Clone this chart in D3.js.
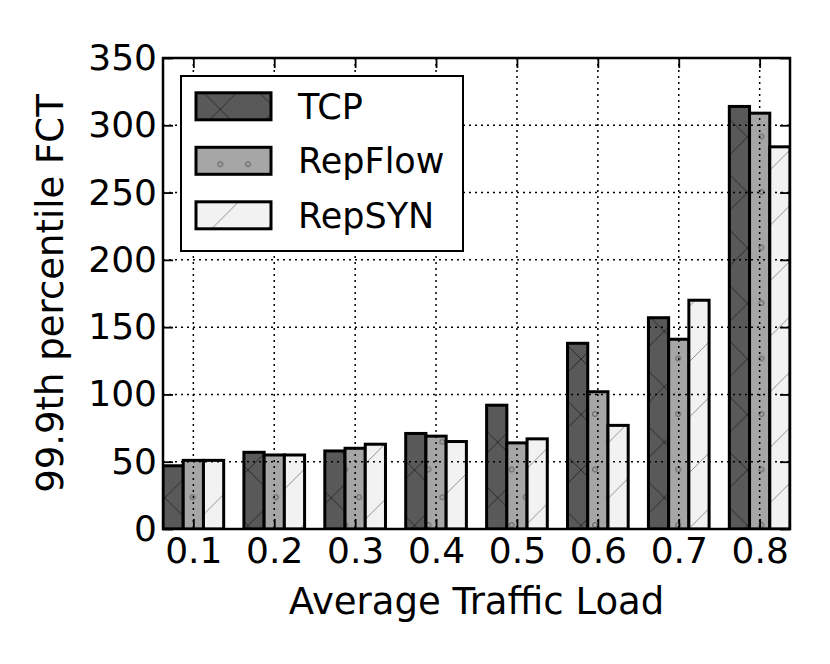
<!DOCTYPE html>
<html>
<head>
<meta charset="utf-8">
<script src="https://cdn.jsdelivr.net/npm/d3@7"></script>
<style>
  body { margin: 0; background: #fff; }
  svg { display: block; }
  text { font-family: "DejaVu Sans", sans-serif; }
</style>
</head>
<body>
<svg id="chart" width="830" height="664"></svg>
<script>
// ---- data ----
const loads = [0.1, 0.2, 0.3, 0.4, 0.5, 0.6, 0.7, 0.8];
const tickLabels = ["0.1", "0.2", "0.3", "0.4", "0.5", "0.6", "0.7", "0.8"];
const seriesNames = ["TCP", "RepFlow", "RepSYN"];
const tcp = [47, 57, 58, 71, 92, 138, 157, 314];
const repFlow = [51, 55, 60, 69, 64, 102, 141, 309];
const repSyn = [51, 55, 63, 65, 67, 77, 170, 284];
const yTicks = [0, 50, 100, 150, 200, 250, 300, 350];

// ---- layout ----
const L = 163, R = 790, T = 58, B = 529;
const barW = 0.025;
const svg = d3.select("#chart");
svg.append("rect").attr("width", 830).attr("height", 664).attr("fill", "#fff");

const x = d3.scaleLinear().domain([0.0625, 0.8375]).range([L, R]);
const y = d3.scaleLinear().domain([0, 350]).range([B, T]);

// ---- hatch patterns ----
const defs = svg.append("defs");
const P = 55.5;
function linePattern(id, bg, lines, stroke, sw) {
  const p = defs.append("pattern").attr("id", id)
    .attr("patternUnits", "userSpaceOnUse")
    .attr("x", 26).attr("y", 26).attr("width", P).attr("height", P);
  p.append("rect").attr("width", P).attr("height", P).attr("fill", bg);
  if (lines.includes("/")) {
    p.append("line").attr("x1", -1).attr("y1", P + 1).attr("x2", P + 1).attr("y2", -1)
      .attr("stroke", stroke).attr("stroke-width", sw);
  }
  if (lines.includes("\\")) {
    p.append("line").attr("x1", -1).attr("y1", -1).attr("x2", P + 1).attr("y2", P + 1)
      .attr("stroke", stroke).attr("stroke-width", sw);
  }
}
linePattern("hatchX", "#595959", "/\\", "#262626", 0.9);
linePattern("hatchSlash", "#f2f2f2", "/", "#858585", 0.9);
{
  const w = 27.75, h = 55.5;
  const p = defs.append("pattern").attr("id", "hatchO")
    .attr("patternUnits", "userSpaceOnUse")
    .attr("x", 504.8).attr("y", 511.1).attr("width", w).attr("height", h);
  p.append("rect").attr("width", w).attr("height", h).attr("fill", "#a6a6a6");
  [[6.9, 13.9], [20.8, 41.65]].forEach(([cx, cy]) => {
    p.append("circle").attr("cx", cx).attr("cy", cy).attr("r", 2.4)
      .attr("fill", "none").attr("stroke", "#505050").attr("stroke-width", 0.9);
  });
}
const fills = ["url(#hatchX)", "url(#hatchO)", "url(#hatchSlash)"];

// ---- clip ----
defs.append("clipPath").attr("id", "plotClip")
  .append("rect").attr("x", L).attr("y", T).attr("width", R - L).attr("height", B - T);

// ---- bars ----
const series = [tcp, repFlow, repSyn];
const barsG = svg.append("g").attr("clip-path", "url(#plotClip)");
series.forEach((vals, si) => {
  barsG.selectAll(null).data(vals).enter().append("rect")
    .attr("x", (d, i) => x(loads[i] - 1.5 * barW + si * barW))
    .attr("width", x(barW) - x(0))
    .attr("y", d => y(d))
    .attr("height", d => y(0) - y(d))
    .attr("fill", fills[si])
    .attr("stroke", "#000")
    .attr("stroke-width", 3);
});

// ---- grid (drawn above bars) ----
const gridG = svg.append("g").attr("class", "grid");
gridG.selectAll(null).data(yTicks).enter().append("line")
  .attr("x1", L).attr("x2", R).attr("y1", d => y(d)).attr("y2", d => y(d));
gridG.selectAll(null).data(loads).enter().append("line")
  .attr("y1", T).attr("y2", B).attr("x1", d => x(d)).attr("x2", d => x(d));
gridG.selectAll("line").attr("stroke", "#000").attr("stroke-width", 1.5)
  .attr("stroke-dasharray", "2,4");

// ---- axes ----
const tickLen = 10;
const fs = 36;
const xAxisB = d3.axisBottom(x).tickValues(loads).tickFormat((d, i) => tickLabels[i])
  .tickSizeInner(-tickLen).tickSizeOuter(0).tickPadding(8);
const xAxisT = d3.axisTop(x).tickValues(loads).tickFormat("")
  .tickSizeInner(-tickLen).tickSizeOuter(0);
const yAxisL = d3.axisLeft(y).tickValues(yTicks).tickFormat(d3.format("d"))
  .tickSizeInner(-tickLen).tickSizeOuter(0).tickPadding(6);
const yAxisR = d3.axisRight(y).tickValues(yTicks).tickFormat("")
  .tickSizeInner(-tickLen).tickSizeOuter(0);

function styleAxis(g) {
  g.select(".domain").remove();
  g.selectAll(".tick line").attr("stroke", "#000").attr("stroke-width", 1.8);
  g.selectAll(".tick text").attr("font-size", fs).attr("fill", "#000")
    .attr("font-family", "DejaVu Sans, sans-serif");
}
svg.append("g").attr("transform", `translate(0,${B})`).call(xAxisB).call(styleAxis);
svg.append("g").attr("transform", `translate(0,${T})`).call(xAxisT).call(styleAxis);
svg.append("g").attr("transform", `translate(${L},0)`).call(yAxisL).call(styleAxis);
svg.append("g").attr("transform", `translate(${R},0)`).call(yAxisR).call(styleAxis);

// frame
svg.append("rect").attr("x", L).attr("y", T).attr("width", R - L).attr("height", B - T)
  .attr("fill", "none").attr("stroke", "#000").attr("stroke-width", 2.5);

// axis labels
svg.append("text").attr("x", (L + R) / 2).attr("y", 614)
  .attr("text-anchor", "middle").attr("font-size", 37)
  .text("Average Traffic Load");
svg.append("text")
  .attr("transform", `translate(63,${(T + B) / 2}) rotate(-90)`)
  .attr("text-anchor", "middle").attr("font-size", 37)
  .text("99.9th percentile FCT");

// ---- legend ----
const lg = svg.append("g");
lg.append("rect").attr("x", 181).attr("y", 76).attr("width", 282).attr("height", 175)
  .attr("fill", "#fff").attr("stroke", "#000").attr("stroke-width", 2);
seriesNames.forEach((name, i) => {
  const cy = 106.3 + i * 54.5;
  lg.append("rect").attr("x", 196).attr("y", cy - 13.5).attr("width", 75).attr("height", 27)
    .attr("fill", fills[i]).attr("stroke", "#000").attr("stroke-width", 3);
  lg.append("text").attr("x", 298).attr("y", cy + 12.3)
    .attr("font-size", 35).text(name);
});
</script>
</body>
</html>
